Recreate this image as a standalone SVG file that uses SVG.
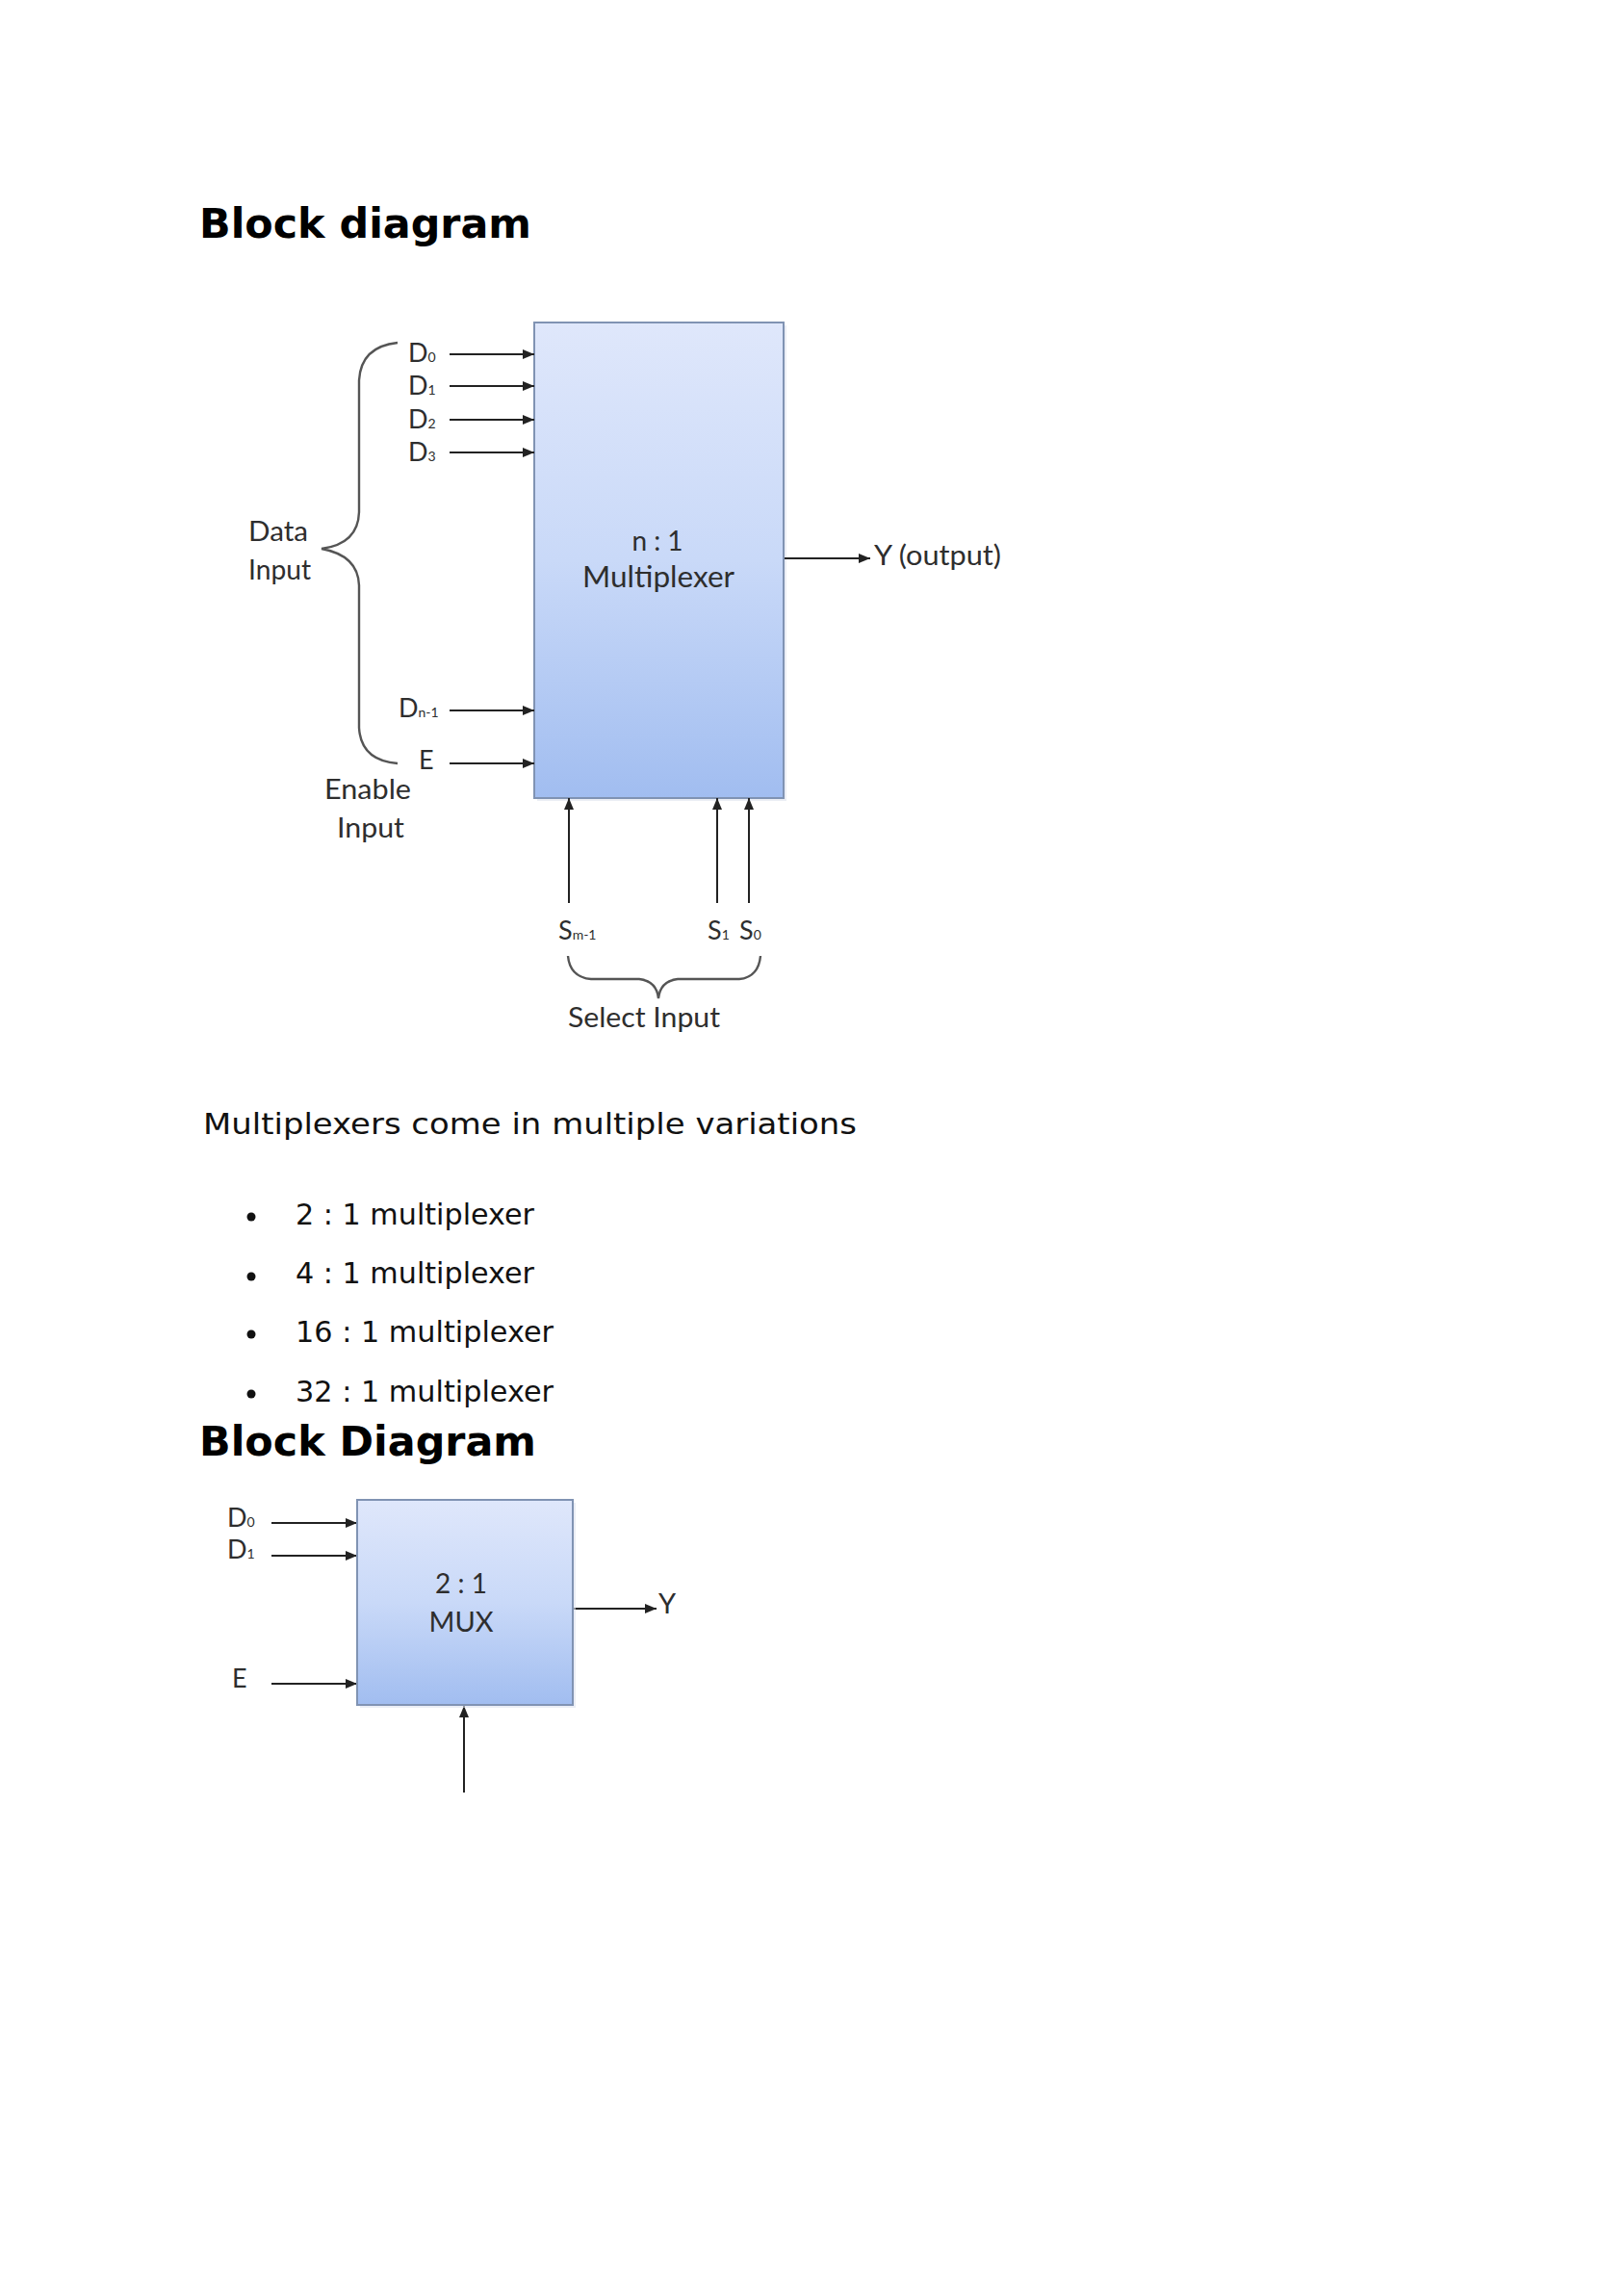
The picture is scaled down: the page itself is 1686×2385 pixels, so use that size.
<svg xmlns="http://www.w3.org/2000/svg" width="1686" height="2385" viewBox="0 0 1686 2385">
<style>
.title{font-family:"DejaVu Sans",sans-serif;font-weight:bold;font-size:43px;fill:#000}
.body{font-family:"DejaVu Sans",sans-serif;font-size:31px;fill:#111}
.lbl{font-family:Lato,"Open Sans",sans-serif;fill:#2e2e2e}
.sub{font-size:14px}
.wire{stroke:#222;stroke-width:2;fill:none}
.brace{stroke:#555;stroke-width:2.4;fill:none}
.box{stroke:#8093b3;stroke-width:2}
</style>
<defs>
<linearGradient id="g" x1="0" y1="0" x2="0" y2="1">
<stop offset="0" stop-color="#dfe7fb"/>
<stop offset="0.5" stop-color="#c9d9f8"/>
<stop offset="1" stop-color="#a1bdf0"/>
</linearGradient>
<marker id="ah" viewBox="0 0 12 10" refX="12" refY="5" markerWidth="12" markerHeight="10" markerUnits="userSpaceOnUse" orient="auto">
<path d="M0,0 L12,5 L0,10 z" fill="#222"/>
</marker>
</defs>
<rect width="1686" height="2385" fill="#fff"/>

<text class="title" x="207" y="247" textLength="345" lengthAdjust="spacingAndGlyphs">Block diagram</text>

<g id="mux-n1">
<rect x="558" y="338" width="259" height="494" fill="#dde3ee" opacity="0.6"/>
<rect class="box" x="555" y="335" width="259" height="494" fill="url(#g)"/>
<text class="lbl" x="683" y="572" font-size="28" text-anchor="middle">n : 1</text>
<text class="lbl" x="684" y="610" font-size="30" text-anchor="middle" textLength="158" lengthAdjust="spacingAndGlyphs">Multiplexer</text>
</g>

<g id="data-labels">
<text class="lbl" x="424" y="376" font-size="27">D<tspan class="sub">0</tspan></text>
<text class="lbl" x="424" y="410" font-size="27">D<tspan class="sub">1</tspan></text>
<text class="lbl" x="424" y="445" font-size="27">D<tspan class="sub">2</tspan></text>
<text class="lbl" x="424" y="479" font-size="27">D<tspan class="sub">3</tspan></text>
<text class="lbl" x="414" y="745" font-size="27">D<tspan class="sub">n-1</tspan></text>
<text class="lbl" x="435" y="799" font-size="27">E</text>
<text class="lbl" x="258" y="562" font-size="28" textLength="62" lengthAdjust="spacingAndGlyphs">Data</text>
<text class="lbl" x="258" y="602" font-size="28" textLength="65" lengthAdjust="spacingAndGlyphs">Input</text>
<text class="lbl" x="337" y="830" font-size="28" textLength="90" lengthAdjust="spacingAndGlyphs">Enable</text>
<text class="lbl" x="350" y="870" font-size="28" textLength="70" lengthAdjust="spacingAndGlyphs">Input</text>
</g>

<g id="output-label">
<text class="lbl" x="908" y="587" font-size="29" textLength="132" lengthAdjust="spacingAndGlyphs">Y (output)</text>
</g>

<g id="select-labels">
<text class="lbl" x="580" y="976" font-size="27">S<tspan class="sub">m-1</tspan></text>
<text class="lbl" x="735" y="976" font-size="27">S<tspan class="sub">1</tspan></text>
<text class="lbl" x="768" y="976" font-size="27">S<tspan class="sub">0</tspan></text>
<text class="lbl" x="590" y="1067" font-size="28" textLength="158" lengthAdjust="spacingAndGlyphs">Select Input</text>
</g>

<g id="braces">
<path class="brace" d="M413,356 Q375,360 373,395 L373,532 Q372,565 334,570 Q372,577 373,608 L373,756 Q375,790 413,793"/>
<path class="brace" d="M590,993 Q592,1015 614,1017 L664,1017 Q682,1019 684,1037 Q686,1019 704,1017 L768,1017 Q788,1015 790,993"/>
</g>

<g id="connectors">
<line class="wire" x1="467" y1="368" x2="555" y2="368" marker-end="url(#ah)"/>
<line class="wire" x1="467" y1="401" x2="555" y2="401" marker-end="url(#ah)"/>
<line class="wire" x1="467" y1="436" x2="555" y2="436" marker-end="url(#ah)"/>
<line class="wire" x1="467" y1="470" x2="555" y2="470" marker-end="url(#ah)"/>
<line class="wire" x1="467" y1="738" x2="555" y2="738" marker-end="url(#ah)"/>
<line class="wire" x1="467" y1="793" x2="555" y2="793" marker-end="url(#ah)"/>
<line class="wire" x1="815" y1="580" x2="904" y2="580" marker-end="url(#ah)"/>
<line class="wire" x1="591" y1="938" x2="591" y2="829" marker-end="url(#ah)"/>
<line class="wire" x1="745" y1="938" x2="745" y2="829" marker-end="url(#ah)"/>
<line class="wire" x1="778" y1="938" x2="778" y2="829" marker-end="url(#ah)"/>
<line class="wire" x1="282" y1="1582" x2="371" y2="1582" marker-end="url(#ah)"/>
<line class="wire" x1="282" y1="1616" x2="371" y2="1616" marker-end="url(#ah)"/>
<line class="wire" x1="282" y1="1749" x2="371" y2="1749" marker-end="url(#ah)"/>
<line class="wire" x1="596" y1="1671" x2="682" y2="1671" marker-end="url(#ah)"/>
<line class="wire" x1="482" y1="1862" x2="482" y2="1772" marker-end="url(#ah)"/>
</g>

<text class="body" x="211" y="1178" textLength="679" lengthAdjust="spacingAndGlyphs">Multiplexers come in multiple variations</text>

<g id="list">
<circle cx="261" cy="1264" r="4.5" fill="#111"/>
<circle cx="261" cy="1326" r="4.5" fill="#111"/>
<circle cx="261" cy="1386" r="4.5" fill="#111"/>
<circle cx="261" cy="1448" r="4.5" fill="#111"/>
<text class="body" x="307" y="1272" font-size="30" textLength="248" lengthAdjust="spacingAndGlyphs">2 : 1 multiplexer</text>
<text class="body" x="307" y="1333" font-size="30" textLength="248" lengthAdjust="spacingAndGlyphs">4 : 1 multiplexer</text>
<text class="body" x="307" y="1394" font-size="30" textLength="268" lengthAdjust="spacingAndGlyphs">16 : 1 multiplexer</text>
<text class="body" x="307" y="1456" font-size="30" textLength="268" lengthAdjust="spacingAndGlyphs">32 : 1 multiplexer</text>
</g>

<text class="title" x="207" y="1512" textLength="350" lengthAdjust="spacingAndGlyphs">Block Diagram</text>

<g id="mux-21">
<rect x="374" y="1561" width="224" height="213" fill="#dde3ee" opacity="0.6"/>
<rect class="box" x="371" y="1558" width="224" height="213" fill="url(#g)"/>
<text class="lbl" x="479" y="1655" font-size="28" text-anchor="middle">2 : 1</text>
<text class="lbl" x="479" y="1695" font-size="29" text-anchor="middle">MUX</text>
</g>

<g id="mux21-labels">
<text class="lbl" x="236" y="1586" font-size="27">D<tspan class="sub">0</tspan></text>
<text class="lbl" x="236" y="1619" font-size="27">D<tspan class="sub">1</tspan></text>
<text class="lbl" x="241" y="1753" font-size="27">E</text>
<text class="lbl" x="684" y="1676" font-size="29">Y</text>
</g>
</svg>
